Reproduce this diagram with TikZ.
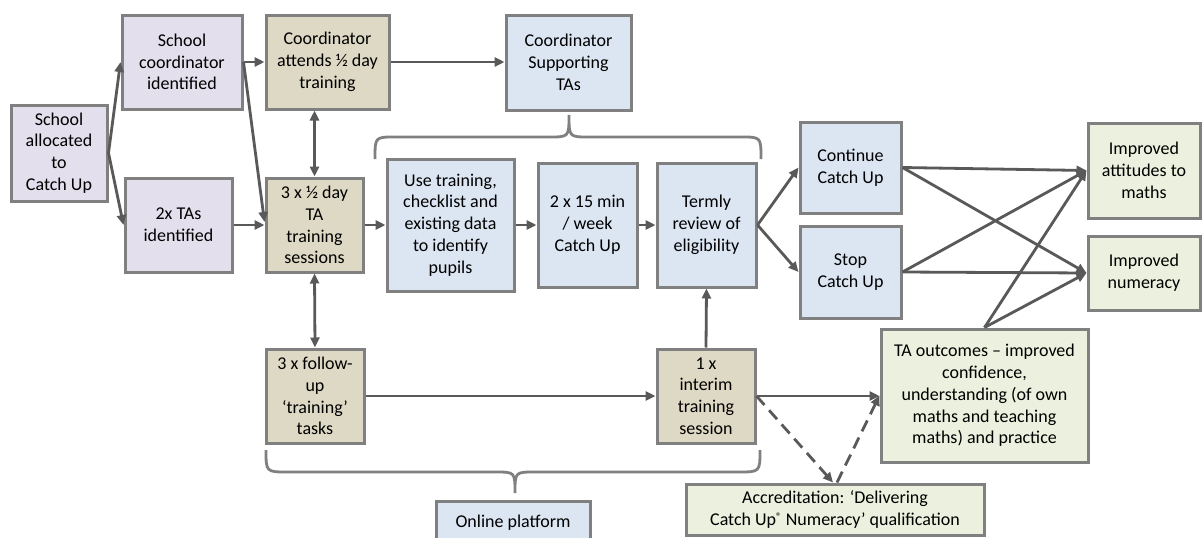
\documentclass[tikz,border=0pt]{standalone}
\usepackage{fontspec}
\setmainfont{Carlito}
\usetikzlibrary{arrows.meta}
\definecolor{lav}{HTML}{E4DFEC}
\definecolor{tan}{HTML}{DDD9C4}
\definecolor{lblue}{HTML}{DCE6F2}
\definecolor{lgreen}{HTML}{EBF1DE}
\definecolor{bordergray}{HTML}{808080}
\definecolor{arrowgray}{HTML}{595959}
\begin{document}
\begin{tikzpicture}[x=1pt,y=-1pt,
  box/.style={draw=bordergray, line width=3pt, inner sep=0pt, align=center,
    font=\fontsize{18}{21.8}\selectfont, text=black},
  purp/.style={box, fill=lav},
  tanbox/.style={box, fill=tan},
  bluebox/.style={box, fill=lblue},
  greenbox/.style={box, fill=lgreen},
  arr/.style={draw=arrowgray, line width=2.8pt, -{Triangle[length=10pt,width=9pt]}},
  darr/.style={arr, {Triangle[length=10pt,width=9pt]}-{Triangle[length=10pt,width=9pt]}},
  dasharr/.style={arr, dash pattern=on 12pt off 7pt},
  bracepath/.style={draw=bordergray, line width=2.8pt}]
\useasboundingbox (0,0) rectangle (1202,538);
\clip (0,0) rectangle (1202,538);
\fill[white] (0,0) rectangle (1202,538);

\node[purp, minimum width=96pt, minimum height=96pt] (alloc) at (59,153) {School\\allocated\\to\\Catch Up};
\node[purp, minimum width=120pt, minimum height=94pt] (coord) at (182,62) {School\\coordinator\\identified};
\node[purp, minimum width=107pt, minimum height=94pt] (tas) at (178.5,225) {2x TAs\\identified};
\node[tanbox, minimum width=123pt, minimum height=94pt] (attends) at (327.5,62) {Coordinator\\attends ½ day\\training};
\node[tanbox, minimum width=97pt, minimum height=94pt] (half) at (314.5,225) {3 x ½ day\\TA\\training\\sessions};
\node[bluebox, minimum width=125pt, minimum height=95pt] (supp) at (568.5,62.5) {Coordinator\\Supporting\\TAs};
\node[bluebox, minimum width=127pt, minimum height=132pt] (use) at (450.5,225) {Use training,\\checklist and\\existing data\\to identify\\pupils};
\node[bluebox, minimum width=99pt, minimum height=124pt] (twox) at (587.5,225) {2 x 15 min\\/ week\\Catch Up};
\node[bluebox, minimum width=99pt, minimum height=124pt] (termly) at (706.5,225) {Termly\\review of\\eligibility};
\node[bluebox, minimum width=101pt, minimum height=91pt] (cont) at (850.5,167.5) {Continue\\Catch Up};
\node[bluebox, minimum width=101pt, minimum height=92pt] (stop) at (850.5,272) {Stop\\Catch Up};
\node[greenbox, minimum width=112pt, minimum height=95pt] (att) at (1144,170.5) {Improved\\attitudes to\\maths};
\node[greenbox, minimum width=112pt, minimum height=74pt] (num) at (1144,273) {Improved\\numeracy};
\node[greenbox, minimum width=207pt, minimum height=133pt] (ta) at (984.5,395.5) {TA outcomes -- improved\\confidence,\\understanding (of own\\maths and teaching\\maths) and practice};
\node[tanbox, minimum width=98pt, minimum height=94pt] (interim) at (706,396) {1 x\\interim\\training\\session};
\node[tanbox, minimum width=98pt, minimum height=94pt] (follow) at (315,396) {3 x follow-\\up\\‘training’\\tasks};
\node[greenbox, minimum width=298pt, minimum height=51pt] (accr) at (835,509.5) {Accreditation: ‘Delivering\\Catch Up{\fontsize{11}{11}\selectfont\raisebox{5pt}{®}} Numeracy’ qualification};
\node[bluebox, minimum width=154pt, minimum height=44pt] (online) at (513,523) {Online platform};

% braces
\draw[bracepath] (375,159) .. controls (375,137) .. (395,137) -- (549,137) .. controls (569,137) .. (569,115)
  .. controls (569,137) .. (589,137) -- (741,137) .. controls (761,137) .. (761,159);
\draw[bracepath] (266,450) .. controls (266,472) .. (288,472) -- (495,472) .. controls (515,472) .. (515,493)
  .. controls (515,472) .. (535,472) -- (738,472) .. controls (760,472) .. (760,450);

% connectors
\draw[arr] (alloc.east) -- (coord.west);
\draw[arr] (alloc.east) -- (tas.west);
\draw[arr] (coord.east) -- (attends.west);
\draw[arr] (coord.east) -- ([yshift=3pt]half.west);
\draw[arr] (tas.west -| tas.east) -- (half.west);
\draw[darr] (half.north) -- (half.north |- attends.south);
\draw[darr] (half.south) -- (follow.north);
\draw[arr] (attends.east) -- (attends.east -| supp.west);
\draw[arr] (half.east) -- (use.west);
\draw[arr] (use.east) -- (twox.west);
\draw[arr] (twox.east) -- (termly.west);
\draw[arr] (termly.east) -- (cont.west);
\draw[arr] (termly.east) -- (stop.west);
\draw[arr] (cont.east) -- (att.west);
\draw[arr] (cont.east) -- (num.west);
\draw[arr] (stop.east) -- (att.west);
\draw[arr] (stop.east) -- (num.west);
\draw[arr] (ta.north) -- (att.west);
\draw[arr] (ta.north) -- (num.west);
\draw[arr] (follow.east) -- (interim.west);
\draw[arr] (interim.north) -- (termly.south);
\draw[arr] (interim.east) -- (interim.east -| ta.west);
\draw[dasharr] (interim.east) -- ([xshift=-2pt]accr.north);
\draw[dasharr] ([xshift=2pt]accr.north) -- (ta.west);
\end{tikzpicture}
\end{document}
